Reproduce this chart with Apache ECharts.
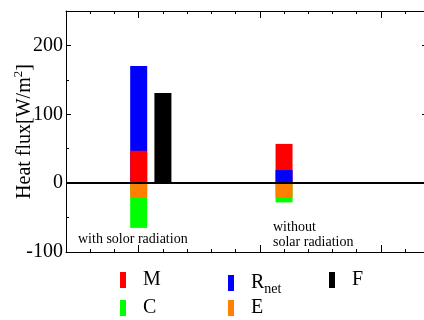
<!DOCTYPE html>
<html>
<head>
<meta charset="utf-8">
<script src="https://cdn.jsdelivr.net/npm/echarts@6/dist/echarts.min.js"></script>
<style>
  html, body { margin: 0; padding: 0; background: #fff; }
  #chart { width: 424px; height: 320px; }
</style>
</head>
<body>
<div id="chart"></div>
<script>
// positions on the x axis (0 = with solar radiation, 6 = without)
const groupX = [0, 6]
const fluxX = [1]

// heat flux components, W/m2, each bar drawn from zero
const mValues = [47, 57]
const rnetValues = [170, 19]
const cValues = [-65, -28]
const eValues = [-21, -21]
const fValues = [131]

const yTicks = [-100, 0, 100, 200]

const serif = 'Liberation Serif'
const chart = echarts.init(document.getElementById('chart'))

function pairs(xs, ys) {
  return ys.map((v, i) => [xs[i], v])
}

function bar(name, color, data, extra) {
  return Object.assign({
    name: name,
    type: 'bar',
    xAxisIndex: 0,
    yAxisIndex: 0,
    barWidth: 17,
    barGap: '-100%',
    itemStyle: { color: color },
    data: data
  }, extra || {})
}

// axes that only draw tick marks
function tickAxis(opts, len) {
  return Object.assign({
    type: 'value',
    axisLabel: { show: false },
    splitLine: { show: false },
    axisLine: { show: false, onZero: false },
    axisTick: { inside: true, length: len, lineStyle: { color: '#000' } }
  }, opts)
}

const frameLine = { show: true, onZero: false, lineStyle: { color: '#000', width: 1 } }

const option = {
  animation: false,
  grid: [
    { left: 66, right: -3, top: 11, bottom: 68, outerBoundsMode: 'none', containLabel: false },
    { left: 138.7, right: -3, top: 11, bottom: 68, outerBoundsMode: 'none', containLabel: false }
  ],
  xAxis: [
    // minor ticks every 1
    tickAxis({ gridIndex: 0, position: 'bottom', min: -3, max: 11.9, interval: 1, axisLine: frameLine }, 3),
    tickAxis({ gridIndex: 0, position: 'top', min: -3, max: 11.9, interval: 1, axisLine: frameLine }, 3),
    // major ticks every 5
    tickAxis({ gridIndex: 1, position: 'bottom', min: 0, max: 11.9, interval: 5 }, 7),
    tickAxis({ gridIndex: 1, position: 'top', min: 0, max: 11.9, interval: 5 }, 7)
  ],
  yAxis: [
    tickAxis({ gridIndex: 0, position: 'left', min: -100, max: 250, interval: 50, axisLine: frameLine }, 3),
    tickAxis({
      gridIndex: 0, position: 'left', min: -100, max: 250, interval: 100,
      axisLabel: {
        inside: false, margin: 3, color: '#000', fontFamily: serif, fontSize: 20,
        showMaxLabel: false,
        formatter: v => (yTicks.indexOf(v) >= 0 ? String(v) : '')
      },
      name: '{n|Heat flux[W/m}{sup|2}{n|]}',
      nameLocation: 'middle',
      nameGap: 29,
      nameRotate: 90,
      nameMoveOverlap: false,
      nameTextStyle: {
        color: '#000', fontFamily: serif, fontSize: 20,
        rich: {
          n: { fontFamily: serif, fontSize: 20, color: '#000' },
          sup: { fontFamily: serif, fontSize: 13, color: '#000', padding: [0, 0, 12, 0] }
        }
      }
    }, 5),
    tickAxis({ gridIndex: 0, position: 'right', min: -100, max: 250, interval: 50 }, 3),
    tickAxis({ gridIndex: 0, position: 'right', min: -100, max: 250, interval: 100 }, 5),
    { type: 'value', gridIndex: 1, min: -100, max: 250, show: false }
  ],
  legend: [
    { left: 120, top: 270, orient: 'vertical', itemGap: 8, padding: 0,
      data: ['M', 'C'] },
    { left: 228, top: 273, orient: 'vertical', itemGap: 2, padding: 0,
      data: ['R_net', 'E'] },
    { left: 329, top: 270, orient: 'vertical', padding: 0,
      data: ['F'] }
  ].map(l => Object.assign(l, {
    icon: 'rect',
    itemWidth: 6,
    itemHeight: 16,
    formatter: name => (name === 'R_net' ? '{r|R}{s|net}' : '{r|' + name + '}'),
    textStyle: {
      color: '#000', fontFamily: serif, fontSize: 20,
      rich: {
        r: { fontFamily: serif, fontSize: 20, color: '#000', padding: [0, 0, 0, 12] },
        s: { fontFamily: serif, fontSize: 14, color: '#000', padding: [12, 0, 0, 0] }
      }
    }
  })),
  graphic: [
    { type: 'text', left: 78, top: 232,
      style: { text: 'with solor radiation', font: '14px "Liberation Serif"', fill: '#000' } },
    { type: 'text', left: 273, top: 220,
      style: { text: 'without\nsolar radiation', font: '14px "Liberation Serif"', fill: '#000', lineHeight: 15 } }
  ],
  series: [
    bar('C', '#00ff00', pairs(groupX, cValues), {
      markLine: {
        silent: true,
        symbol: 'none',
        label: { show: false },
        lineStyle: { color: '#000', width: 2, type: 'solid' },
        data: [{ yAxis: 0 }]
      }
    }),
    bar('E', '#ff8000', pairs(groupX, eValues)),
    bar('R_net', '#0000ff', pairs(groupX.slice(0, 1), rnetValues.slice(0, 1))),
    bar('M', '#ff0000', pairs(groupX, mValues)),
    bar('R_net', '#0000ff', pairs(groupX.slice(1), rnetValues.slice(1))),
    bar('F', '#000000', pairs(fluxX, fValues))
  ]
}

chart.setOption(option)

window.addEventListener('resize', () => {
  chart.resize()
})
</script>
</body>
</html>
